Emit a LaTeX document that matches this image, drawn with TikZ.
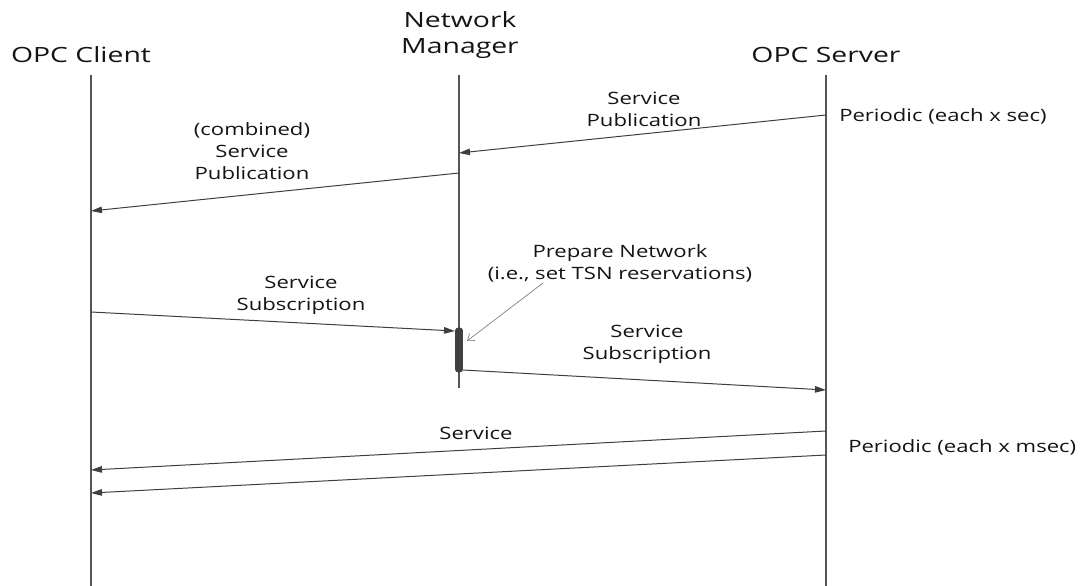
\documentclass[tikz,border=0pt]{standalone}
\usepackage{fontspec}
\setmainfont{Open Sans}
\usetikzlibrary{arrows.meta}
\definecolor{ink}{HTML}{141414}
\definecolor{wire}{HTML}{3F3F3F}
\definecolor{life}{HTML}{555555}
\tikzset{
  title/.style={inner sep=0pt, text=ink, xscale=1.35, align=center,
    font=\fontsize{21}{26}\selectfont},
  msglabel/.style={inner sep=0pt, text=ink, xscale=1.3, align=center,
    font=\fontsize{17}{22}\selectfont},
  lifeline/.style={draw=life, line width=1.3pt},
  msg/.style={draw=wire, line width=1pt, -{Triangle[length=11pt,width=6.5pt]}},
  note/.style={draw=gray, line width=0.7pt, -{Straight Barb[length=6pt,width=9pt]}},
  actbar/.style={draw=wire, fill=wire, rounded corners=2.5pt, line width=0.6pt}
}
\begin{document}
\begin{tikzpicture}[x=1pt,y=-1pt]
\useasboundingbox (0,0) rectangle (1084,586);

% participants
\node[title, anchor=base] (client) at (81,63) {OPC Client};
\node[title, anchor=base] (nmA) at (460,27.5) {Network};
\node[title, anchor=base] (nmB) at (460,53) {Manager};
\node[title, anchor=base] (server) at (826,63) {OPC Server};

% lifeline ends
\coordinate (cTop) at (91,75);   \coordinate (cBot) at (91,586);
\coordinate (nTop) at (459,75);  \coordinate (nBot) at (459,388);
\coordinate (sTop) at (826,75);  \coordinate (sBot) at (826,586);
\draw[lifeline] (cTop) -- (cBot);
\draw[lifeline] (nTop) -- (nBot);
\draw[lifeline] (sTop) -- (sBot);

% message end points
\coordinate (s1) at (826,115);  \coordinate (n1) at (459,153);
\coordinate (n2) at (459,173);  \coordinate (c2) at (91,211);
\coordinate (c3) at (91,312);   \coordinate (n3) at (455,331);
\coordinate (n5) at (463,370);  \coordinate (s5) at (826,390);
\coordinate (s6) at (826,431);  \coordinate (c6) at (91,470);
\coordinate (s7) at (826,455);  \coordinate (c7) at (91,493);

% activation of the network manager
\draw[actbar] (455.5,328) rectangle (462.5,372);

% messages
\draw[msg] (s1) -- (n1);
\draw[msg] (n2) -- (c2);
\draw[msg] (c3) -- (n3);
\draw[msg] (n5) -- (s5);
\draw[msg] (s6) -- (c6);
\draw[msg] (s7) -- (c7);

% labels
\node[msglabel] (lPub) at (644,109.5) {Service\\Publication};
\node[msglabel] (lComb) at (252,151.5) {(combined)\\Service\\Publication};
\node[msglabel] (lSubA) at (301,295) {Service\\Subscription};
\node[msglabel] (lPrep) at (620,263) {Prepare Network\\(i.e., set TSN reservations)};
\node[msglabel] (lSubB) at (647,344.5) {Service\\Subscription};
\node[msglabel, anchor=base] (lSrv) at (476,439) {Service};
\node[msglabel, anchor=base west] (lPer1) at (839,121) {Periodic (each x sec)};
\node[msglabel, anchor=base west] (lPer2) at (848,452) {Periodic (each x msec)};

% pointer from the note to the activation
\coordinate (pFrom) at (543,283);
\coordinate (pTo) at (467,341);
\draw[note] (pFrom) -- (pTo);
\end{tikzpicture}
\end{document}
